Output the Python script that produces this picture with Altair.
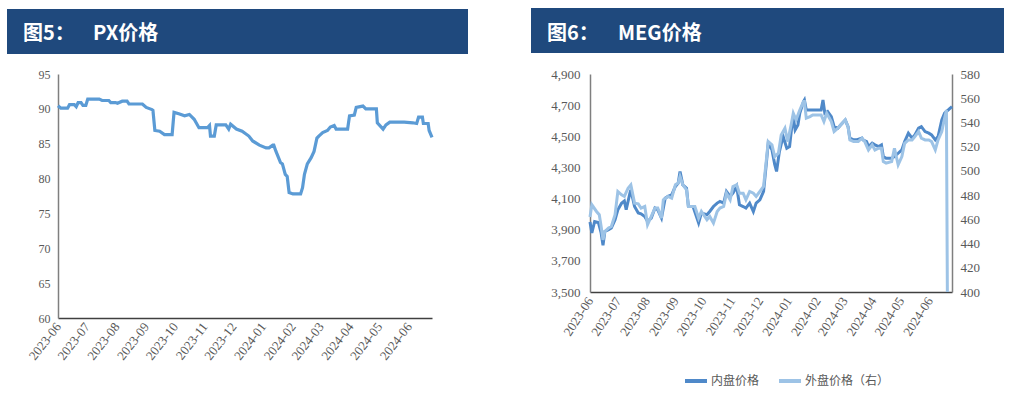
import altair as alt
import pandas as pd

# ---------------- data ----------------
PX_DATES = [
    "2023-06-01", "2023-06-04", "2023-06-11", "2023-06-13", "2023-06-18", "2023-06-20",
    "2023-06-22", "2023-06-25", "2023-06-27", "2023-06-30", "2023-07-02", "2023-07-14",
    "2023-07-17", "2023-07-24", "2023-07-26", "2023-07-31", "2023-08-02", "2023-08-07",
    "2023-08-12", "2023-08-14", "2023-08-28", "2023-09-01", "2023-09-07", "2023-09-08",
    "2023-09-10", "2023-09-15", "2023-09-20", "2023-09-28", "2023-09-30", "2023-10-05",
    "2023-10-11", "2023-10-16", "2023-10-21", "2023-10-26", "2023-11-04", "2023-11-06",
    "2023-11-07", "2023-11-11", "2023-11-13", "2023-11-23", "2023-11-26", "2023-11-28",
    "2023-12-04", "2023-12-10", "2023-12-17", "2023-12-21", "2023-12-28", "2024-01-04",
    "2024-01-07", "2024-01-11", "2024-01-12", "2024-01-14", "2024-01-19", "2024-01-21",
    "2024-01-24", "2024-01-26", "2024-01-28", "2024-02-01", "2024-02-09", "2024-02-11",
    "2024-02-13", "2024-02-16", "2024-02-20", "2024-02-23", "2024-02-26", "2024-02-28",
    "2024-03-03", "2024-03-08", "2024-03-11", "2024-03-15", "2024-03-17", "2024-03-29",
    "2024-03-31", "2024-04-05", "2024-04-07", "2024-04-14", "2024-04-17", "2024-04-28",
    "2024-04-29", "2024-05-05", "2024-05-08", "2024-05-12", "2024-05-27", "2024-06-05",
    "2024-06-09", "2024-06-11", "2024-06-15", "2024-06-16", "2024-06-21", "2024-06-22",
    "2024-06-25",
]
PX_VALUES = [
    90.45, 90.1, 90.1, 90.6, 90.6, 90.3,
    90.9, 90.9, 90.5, 90.5, 91.4, 91.4,
    91.2, 91.2, 90.9, 90.9, 90.8, 91.1,
    91.1, 90.7, 90.7, 90.2, 89.9, 89.8,
    86.9, 86.8, 86.3, 86.3, 89.5, 89.3,
    89.0, 89.2, 88.5, 87.3, 87.3, 87.6,
    86.1, 86.1, 87.7, 87.7, 87.1, 87.8,
    87.1, 86.8, 86.1, 85.4, 84.8, 84.4,
    84.4, 84.8, 84.8, 84.0, 82.3, 82.1,
    80.6, 80.3, 78.0, 77.8, 77.8, 78.7,
    80.6, 82.1, 83.0, 83.9, 85.8, 86.1,
    86.6, 86.9, 87.4, 87.6, 87.1, 87.1,
    89.0, 89.1, 90.2, 90.4, 90.0, 90.0,
    88.0, 87.1, 87.7, 88.1, 88.1, 88.0,
    87.9, 88.8, 88.8, 87.9, 87.9, 86.9,
    85.9,
]

MEG_DOM_DATES = [
    "2023-06-01", "2023-06-03", "2023-06-06", "2023-06-10", "2023-06-13", "2023-06-15",
    "2023-06-17", "2023-06-21", "2023-06-24", "2023-06-28", "2023-07-01", "2023-07-05",
    "2023-07-08", "2023-07-10", "2023-07-14", "2023-07-15", "2023-07-19", "2023-07-23",
    "2023-07-26", "2023-07-30", "2023-08-02", "2023-08-06", "2023-08-10", "2023-08-13",
    "2023-08-17", "2023-08-21", "2023-08-24", "2023-08-28", "2023-09-01", "2023-09-04",
    "2023-09-06", "2023-09-09", "2023-09-13", "2023-09-15", "2023-09-20", "2023-09-26",
    "2023-09-29", "2023-10-05", "2023-10-08", "2023-10-12", "2023-10-16", "2023-10-19",
    "2023-10-23", "2023-10-26", "2023-10-30", "2023-11-02", "2023-11-06", "2023-11-09",
    "2023-11-13", "2023-11-16", "2023-11-20", "2023-11-24", "2023-11-27", "2023-12-01",
    "2023-12-05", "2023-12-08", "2023-12-10", "2023-12-14", "2023-12-17", "2023-12-19",
    "2023-12-22", "2023-12-26", "2023-12-30", "2024-01-02", "2024-01-04", "2024-01-06",
    "2024-01-08", "2024-01-11", "2024-01-13", "2024-01-17", "2024-01-18", "2024-01-20",
    "2024-01-26", "2024-02-02", "2024-02-05", "2024-02-07", "2024-02-09", "2024-02-12",
    "2024-02-16", "2024-02-19", "2024-02-23", "2024-02-26", "2024-03-02", "2024-03-05",
    "2024-03-07", "2024-03-11", "2024-03-14", "2024-03-20", "2024-03-21", "2024-03-25",
    "2024-03-27", "2024-03-31", "2024-04-03", "2024-04-07", "2024-04-10", "2024-04-12",
    "2024-04-15", "2024-04-21", "2024-04-24", "2024-04-28", "2024-05-02", "2024-05-05",
    "2024-05-09", "2024-05-13", "2024-05-16", "2024-05-20", "2024-05-23", "2024-05-27",
    "2024-05-31", "2024-06-03", "2024-06-07", "2024-06-10", "2024-06-14", "2024-06-17",
    "2024-06-21", "2024-06-25",
]
MEG_DOM_VALUES = [
    3950, 3879, 3953, 3947, 3879, 3800,
    3889, 3900, 3911, 3964, 4028, 4070,
    4085, 4028, 4135, 4156, 4049, 4007,
    4002, 3985, 3953, 3975, 4039, 4028,
    3975, 4103, 4114, 4124, 4178, 4199,
    4274, 4188, 4167, 4049, 4049, 3943,
    4007, 3996, 4017, 4049, 4071, 4082,
    4071, 4146, 4114, 4135, 4178, 4060,
    4049, 4039, 4071, 4017, 4071, 4092,
    4146, 4327, 4456, 4413, 4320, 4274,
    4400, 4500, 4423, 4434, 4541, 4626,
    4541, 4573, 4648, 4723, 4733, 4669,
    4669, 4669, 4669, 4733, 4648, 4659,
    4626, 4562, 4552, 4573, 4605, 4562,
    4488, 4477, 4477, 4488, 4477, 4466,
    4434, 4456, 4445, 4434, 4445, 4370,
    4359, 4359, 4370, 4391, 4413, 4466,
    4520, 4488, 4509, 4552, 4562, 4530,
    4520, 4509, 4477, 4498, 4605, 4648,
    4669, 4691,
]

MEG_FOR_DATES = [
    "2023-06-01", "2023-06-03", "2023-06-08", "2023-06-11", "2023-06-13", "2023-06-15",
    "2023-06-17", "2023-06-21", "2023-06-24", "2023-06-28", "2023-07-01", "2023-07-05",
    "2023-07-08", "2023-07-12", "2023-07-15", "2023-07-19", "2023-07-23", "2023-07-26",
    "2023-07-30", "2023-08-02", "2023-08-06", "2023-08-10", "2023-08-13", "2023-08-17",
    "2023-08-19", "2023-08-24", "2023-08-28", "2023-09-01", "2023-09-04", "2023-09-06",
    "2023-09-09", "2023-09-13", "2023-09-15", "2023-09-22", "2023-09-26", "2023-09-29",
    "2023-10-05", "2023-10-08", "2023-10-12", "2023-10-16", "2023-10-19", "2023-10-23",
    "2023-10-26", "2023-10-30", "2023-11-02", "2023-11-06", "2023-11-09", "2023-11-13",
    "2023-11-16", "2023-11-20", "2023-11-24", "2023-11-27", "2023-12-01", "2023-12-05",
    "2023-12-08", "2023-12-10", "2023-12-14", "2023-12-17", "2023-12-21", "2023-12-24",
    "2023-12-28", "2023-12-31", "2024-01-04", "2024-01-06", "2024-01-09", "2024-01-13",
    "2024-01-17", "2024-01-18", "2024-01-20", "2024-01-24", "2024-01-27", "2024-02-02",
    "2024-02-05", "2024-02-08", "2024-02-11", "2024-02-16", "2024-02-19", "2024-02-23",
    "2024-02-26", "2024-03-02", "2024-03-05", "2024-03-07", "2024-03-11", "2024-03-16",
    "2024-03-20", "2024-03-23", "2024-03-27", "2024-03-31", "2024-04-03", "2024-04-07",
    "2024-04-10", "2024-04-12", "2024-04-15", "2024-04-21", "2024-04-24", "2024-04-28",
    "2024-05-02", "2024-05-05", "2024-05-09", "2024-05-13", "2024-05-16", "2024-05-20",
    "2024-05-23", "2024-05-27", "2024-05-31", "2024-06-03", "2024-06-07", "2024-06-10",
    "2024-06-14", "2024-06-17", "2024-06-19", "2024-06-20",
]
MEG_FOR_VALUES = [
    462.0, 472.0, 466.5, 463.8, 454.1, 443.1,
    450.0, 452.8, 454.1, 463.8, 483.0, 480.2,
    478.9, 485.7, 488.5, 473.4, 472.8, 469.3,
    470.6, 455.5, 462.4, 469.3, 469.3, 461.0,
    476.1, 478.9, 477.5, 488.5, 489.9, 495.4,
    488.5, 484.4, 470.6, 470.6, 461.0, 466.5,
    459.6, 462.4, 456.9, 466.5, 469.3, 470.6,
    481.6, 476.1, 487.1, 488.5, 481.6, 481.6,
    476.1, 483.0, 481.6, 478.9, 483.0, 487.1,
    509.1, 524.2, 521.5, 511.8, 514.6, 529.7,
    535.2, 524.2, 539.3, 547.6, 542.1, 550.3,
    557.2, 557.2, 543.5, 544.8, 546.2, 546.2,
    546.2, 540.7, 547.6, 540.7, 532.5, 535.2,
    538.0, 542.1, 536.6, 525.6, 524.2, 524.2,
    527.0, 524.2, 517.3, 521.5, 517.3, 518.7,
    518.7, 507.7, 506.4, 507.7, 518.7, 505.0,
    511.8, 522.8, 525.6, 525.6, 528.3, 532.5,
    527.0, 525.6, 525.6, 524.2, 517.3, 525.6,
    532.5, 543.5, 550.3, 400.0,
]

SERIES = ["内盘价格", "外盘价格（右）"]
TITLE_LEFT = ["图5：", "PX价格"]
TITLE_RIGHT = ["图6：", "MEG价格"]
PX_Y_TICKS = [60, 65, 70, 75, 80, 85, 90, 95]
MEG_LEFT_TICKS = [3500, 3700, 3900, 4100, 4300, 4500, 4700, 4900]
MEG_RIGHT_TICKS = [400, 420, 440, 460, 480, 500, 520, 540, 560, 580]
MONTHS = [(2023, m) for m in range(6, 13)] + [(2024, m) for m in range(1, 7)]
X_START = (2023, 6, 1)
X_END = (2024, 6, 25)

# ---------------- styles ----------------
BANNER = "#1F497D"
PX_COLOR = "#5B9BD5"
DOM_COLOR = "#4F89C9"
FOR_COLOR = "#9DC3E6"
LABEL_COLOR = "#595959"
TICK_FONT = "Liberation Sans Narrow"
CJK = "Noto Sans CJK SC"


def dt(y, m, d):
    return alt.DateTime(year=y, month=m, date=d, utc=True)


MONTH_VALUES = [dt(y, m, 1) for (y, m) in MONTHS]
X_DOMAIN = [dt(*X_START), dt(*X_END)]


def x_axis(size, angle):
    return alt.Axis(
        values=MONTH_VALUES, labelExpr="utcFormat(datum.value, '%Y-%m')",
        title=None, ticks=False, grid=False, labelAngle=angle, labelAlign="right",
        labelBaseline="middle", labelPadding=6, labelFont=TICK_FONT,
        labelFontSize=size, labelColor=LABEL_COLOR, domainColor="#404040",
        domainWidth=1.5, labelOverlap=False, labelBound=False, labelFlush=False,
    )


def y_axis(values, size, orient="left", fmt=None, pad=8):
    kw = dict(
        values=values, title=None, ticks=False, grid=False, orient=orient,
        labelFont=TICK_FONT, labelFontSize=size, labelColor=LABEL_COLOR,
        domainColor="#7F7F7F", domainWidth=1.5, labelPadding=pad,
        labelOverlap=False, labelFlush=False,
    )
    if fmt:
        kw["format"] = fmt
    return alt.Axis(**kw)


def banner(x1, x2, y1, y2, tx1, tx2, ty, texts):
    rect = alt.Chart(pd.DataFrame({"k": [0]})).mark_rect(color=BANNER).encode(
        x=alt.value(x1), x2=alt.value(x2), y=alt.value(y1), y2=alt.value(y2)
    )
    t1 = alt.Chart(pd.DataFrame({"t": [texts[0]]})).mark_text(
        align="left", baseline="middle", color="white", fontSize=20,
        fontWeight="bold", font=CJK
    ).encode(x=alt.value(tx1), y=alt.value(ty), text="t:N")
    t2 = alt.Chart(pd.DataFrame({"t": [texts[1]]})).mark_text(
        align="left", baseline="middle", color="white", fontSize=20,
        fontWeight="bold", font=CJK
    ).encode(x=alt.value(tx2), y=alt.value(ty), text="t:N")
    return [rect, t1, t2]


# ---------------- left chart: PX ----------------
px_df = pd.DataFrame({"date": PX_DATES, "value": PX_VALUES})
px_line = alt.Chart(px_df).mark_line(color=PX_COLOR, strokeWidth=3.2).encode(
    x=alt.X("date:T", scale=alt.Scale(domain=X_DOMAIN), axis=x_axis(13, -52)),
    y=alt.Y("value:Q", scale=alt.Scale(domain=[60, 95]), axis=y_axis(PX_Y_TICKS, 12, pad=8)),
)
left = alt.layer(
    *banner(-51, 410, -65, -20, -35, 35, -40, TITLE_LEFT), px_line
).properties(width=374, height=244)

# ---------------- right chart: MEG ----------------
dom_df = pd.DataFrame({"date": MEG_DOM_DATES, "value": MEG_DOM_VALUES, "series": SERIES[0]})
for_df = pd.DataFrame({"date": MEG_FOR_DATES, "value": MEG_FOR_VALUES, "series": SERIES[1]})

color = alt.Color(
    "series:N",
    scale=alt.Scale(domain=SERIES, range=[DOM_COLOR, FOR_COLOR]),
    legend=alt.Legend(
        title=None, orient="none", direction="horizontal", legendX=625, legendY=294,
        symbolType="stroke", symbolStrokeWidth=4, symbolSize=484,
        labelFont=CJK, labelFontSize=12, labelColor=LABEL_COLOR,
        labelOffset=2, columnPadding=11, labelLimit=300,
    ),
)

MEG_X = alt.X("date:T", scale=alt.Scale(domain=X_DOMAIN), axis=x_axis(13, -57))

dom_line = alt.Chart(dom_df).mark_line(strokeWidth=3).encode(
    x=MEG_X,
    y=alt.Y("value:Q", scale=alt.Scale(domain=[3500, 4900]),
            axis=y_axis(MEG_LEFT_TICKS, 13, "left", ",d", pad=10)),
    color=color,
)
for_line = alt.Chart(for_df).mark_line(strokeWidth=3).encode(
    x=MEG_X,
    y=alt.Y("value:Q", scale=alt.Scale(domain=[400, 580]),
            axis=y_axis(MEG_RIGHT_TICKS, 13, "right", pad=8)),
    color=color,
)
right = alt.layer(
    *banner(-59, 414, -66, -21, -43, 28, -40, TITLE_RIGHT), dom_line, for_line
).resolve_scale(y="independent").properties(width=362, height=218)

chart = alt.hconcat(left, right, spacing=63).properties(
    padding={"left": 7, "top": 8, "right": 0, "bottom": 0},
    background="white",
).configure_view(stroke=None)

chart.save("out.html", embed_options={"renderer": "svg", "actions": False})
